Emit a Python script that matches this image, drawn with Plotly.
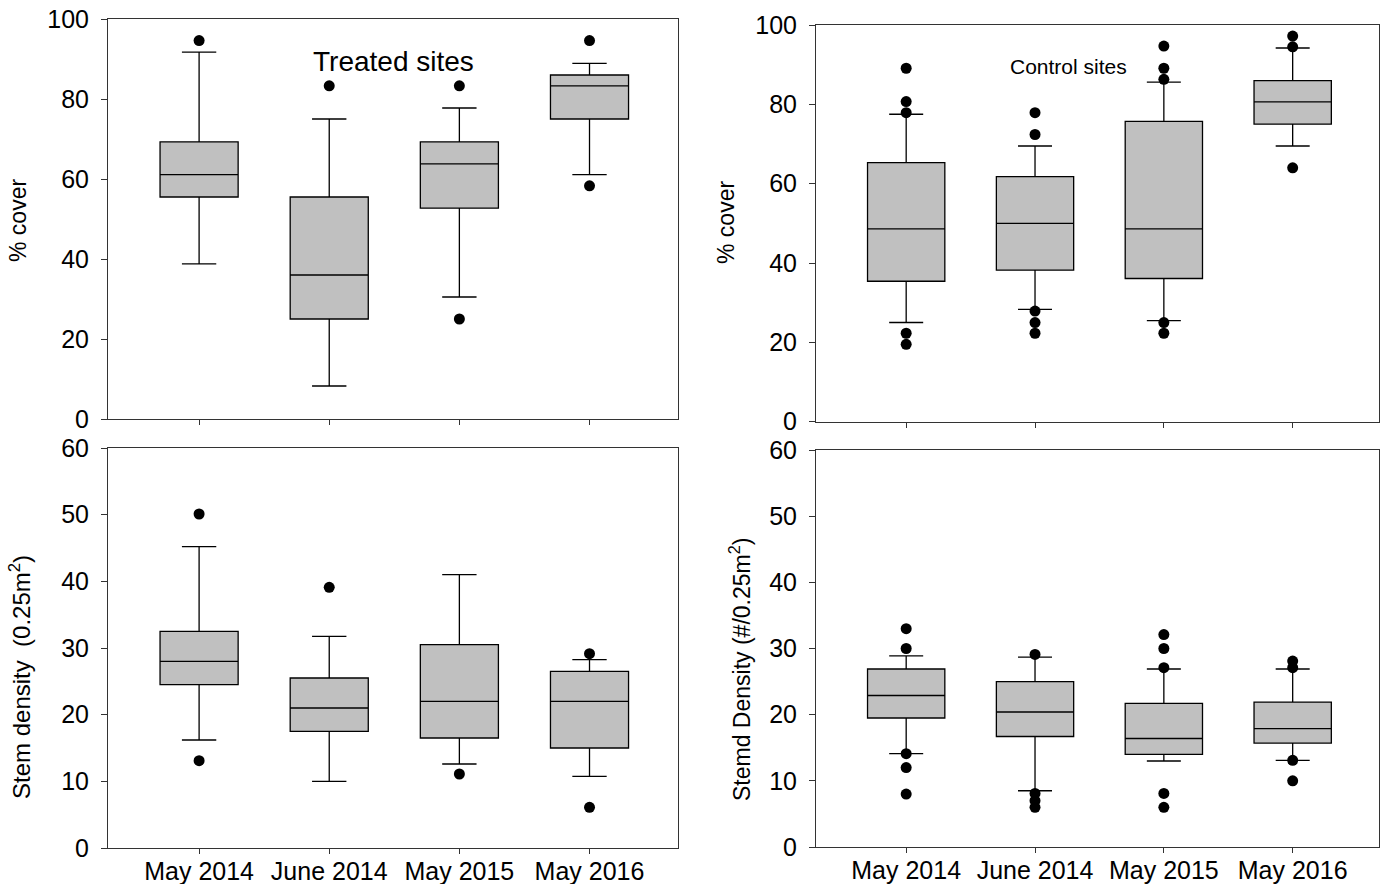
import plotly.graph_objects as go

cats = ["May 2014", "June 2014", "May 2015", "May 2016"]

# Treated sites, % cover
tc_low = [38.8, 8.25, 30.5, 61.1]
tc_q1 = [55.5, 25.0, 52.7, 75.0]
tc_med = [61.1, 36.0, 63.8, 83.3]
tc_q3 = [69.3, 55.5, 69.3, 86.0]
tc_up = [91.7, 75.0, 77.75, 88.9]
tc_out_x = ["May 2014", "June 2014", "May 2015", "May 2015", "May 2016", "May 2016"]
tc_out_y = [94.6, 83.3, 83.3, 25.0, 94.6, 58.3]

# Control sites, % cover
cc_low = [25.0, 28.3, 25.5, 69.5]
cc_q1 = [35.4, 38.2, 36.1, 75.0]
cc_med = [48.6, 50.0, 48.6, 80.6]
cc_q3 = [65.3, 61.8, 75.7, 86.0]
cc_up = [77.5, 69.5, 85.6, 94.2]
cc_out_x = ["May 2014"] * 5 + ["June 2014"] * 5 + ["May 2015"] * 5 + ["May 2016"] * 3
cc_out_y = [89.1, 80.7, 77.9, 22.3, 19.5,
            77.9, 72.4, 27.9, 25.0, 22.3,
            94.7, 89.1, 86.3, 25.0, 22.3,
            97.2, 94.5, 64.0]

# Treated sites, stem density
td_low = [16.2, 10.0, 12.6, 10.75]
td_q1 = [24.5, 17.5, 16.5, 15.0]
td_med = [28.0, 21.0, 22.0, 22.0]
td_q3 = [32.5, 25.5, 30.5, 26.5]
td_up = [45.2, 31.75, 41.0, 28.25]
td_out_x = ["May 2014", "May 2014", "June 2014", "May 2015", "May 2016", "May 2016"]
td_out_y = [50.1, 13.1, 39.1, 11.1, 29.15, 6.1]

# Control sites, stem density
cd_low = [14.1, 8.5, 13.0, 13.1]
cd_q1 = [19.5, 16.7, 14.0, 15.7]
cd_med = [22.9, 20.4, 16.4, 17.9]
cd_q3 = [26.9, 25.0, 21.7, 21.9]
cd_up = [28.9, 28.7, 26.9, 26.9]
cd_out_x = ["May 2014"] * 5 + ["June 2014"] * 4 + ["May 2015"] * 5 + ["May 2016"] * 4
cd_out_y = [33.0, 30.0, 14.1, 12.0, 8.0,
            29.1, 8.1, 7.0, 6.0,
            32.1, 30.0, 27.1, 8.1, 6.0,
            28.1, 27.1, 13.1, 10.0]

W, H = 1383, 884
FONT = "Liberation Sans, Arial, sans-serif"
LINE = "#333333"

fig = go.Figure()

panels = [
    ("x", "y", tc_low, tc_q1, tc_med, tc_q3, tc_up, tc_out_x, tc_out_y),
    ("x2", "y2", cc_low, cc_q1, cc_med, cc_q3, cc_up, cc_out_x, cc_out_y),
    ("x3", "y3", td_low, td_q1, td_med, td_q3, td_up, td_out_x, td_out_y),
    ("x4", "y4", cd_low, cd_q1, cd_med, cd_q3, cd_up, cd_out_x, cd_out_y),
]

for xa, ya, lo, q1, med, q3, up, ox, oy in panels:
    fig.add_trace(go.Box(
        x=cats, q1=q1, median=med, q3=q3, lowerfence=lo, upperfence=up,
        boxpoints=False, fillcolor="#c0c0c0",
        line=dict(color="black", width=1.3),
        width=0.6, whiskerwidth=0.44,
        xaxis=xa, yaxis=ya, showlegend=False, hoverinfo="skip"))
    fig.add_trace(go.Scatter(
        x=ox, y=oy, mode="markers",
        marker=dict(color="black", size=11),
        xaxis=xa, yaxis=ya, showlegend=False, cliponaxis=False, hoverinfo="skip"))

def px_x(p):
    return min(max(p / W, 0.0), 1.0)

def px_y(p):
    return min(max(1 - p / H, 0.0), 1.0)

xcommon = dict(type="category", categoryorder="array", categoryarray=cats,
               showline=True, mirror=True, linecolor=LINE,
               linewidth=1, ticks="outside", ticklen=5, tickcolor=LINE,
               showgrid=False, zeroline=False, automargin=False,
               ticklabelstandoff=-4,
               tickfont=dict(family=FONT, size=25, color="black"))
ycommon = dict(showline=True, mirror=True, linecolor=LINE, linewidth=1,
               ticks="outside", ticklen=6, tickcolor=LINE, showgrid=False,
               zeroline=False, automargin=False, ticklabelstandoff=7,
               tickfont=dict(family=FONT, size=25, color="black"))

LRANGE = [-0.70, 3.68]
RRANGE = [-0.70, 3.67]

fig.update_layout(
    width=W, height=H, margin=dict(l=0, r=0, t=0, b=0, autoexpand=False),
    plot_bgcolor="white", paper_bgcolor="white",
    xaxis=dict(xcommon, domain=[px_x(108), px_x(678)], anchor="y", range=LRANGE, showticklabels=False),
    yaxis=dict(ycommon, domain=[px_y(419), px_y(19)], anchor="x", range=[0, 100], dtick=20),
    xaxis2=dict(xcommon, domain=[px_x(816), px_x(1379)], anchor="y2", range=RRANGE, showticklabels=False),
    yaxis2=dict(ycommon, domain=[px_y(421.7), px_y(25)], anchor="x2", range=[0, 100], dtick=20),
    xaxis3=dict(xcommon, domain=[px_x(108), px_x(678)], anchor="y3", range=LRANGE),
    yaxis3=dict(ycommon, domain=[px_y(848), px_y(448)], anchor="x3", range=[0, 60], dtick=10),
    xaxis4=dict(xcommon, domain=[px_x(816), px_x(1379)], anchor="y4", range=RRANGE),
    yaxis4=dict(ycommon, domain=[px_y(847), px_y(450)], anchor="x4", range=[0, 60], dtick=10),
)

ann = [
    dict(text="% cover", x=px_x(18), y=px_y(221), size=23, angle=-90),
    dict(text="% cover", x=px_x(726), y=px_y(223), size=23, angle=-90),
    dict(text="Stem density  (0.25m<sup>2</sup>)", x=px_x(20), y=px_y(677), size=24, angle=-90),
    dict(text="Stemd Density (#/0.25m<sup>2</sup>)", x=px_x(740), y=px_y(670), size=23, angle=-90),
    dict(text="Treated sites", x=px_x(394), y=px_y(62), size=28, angle=0),
    dict(text="Control sites", x=px_x(1068), y=px_y(67), size=21, angle=0),
]
for a in ann:
    fig.add_annotation(text=a["text"], x=a["x"], y=a["y"], xref="paper", yref="paper",
                       showarrow=False, textangle=a["angle"], xanchor="center", yanchor="middle",
                       font=dict(family=FONT, size=a["size"], color="black"))

fig.write_html("out.html", config={"displayModeBar": False},
               post_script="document.body.style.margin='0px';document.body.style.overflow='hidden';")
